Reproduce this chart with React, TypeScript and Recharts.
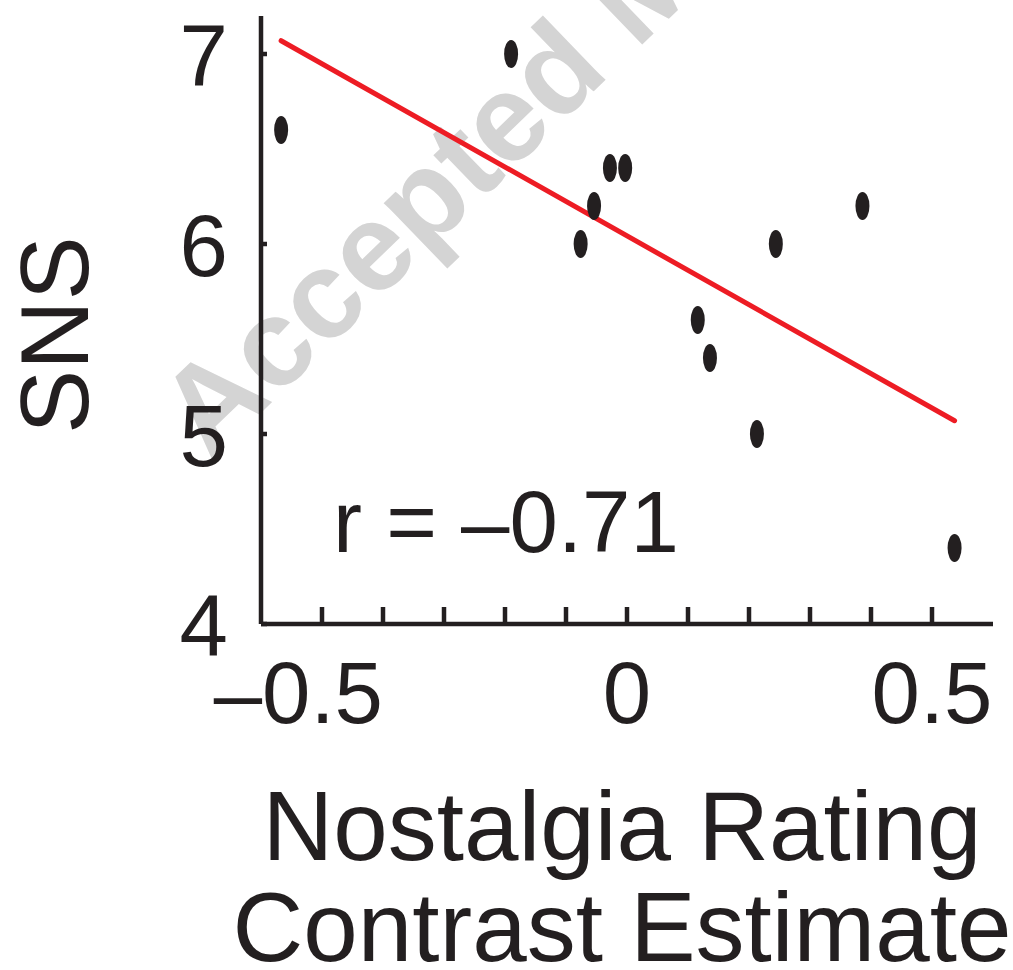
import { ScatterChart, Scatter, XAxis, YAxis, ReferenceLine, Customized } from "recharts";

// contrast estimate (x) and SNS score (y) for each participant
const nostalgia = [-0.567, -0.19, -0.076, -0.054, -0.028, -0.003, 0.116, 0.136, 0.213, 0.244, 0.386, 0.537];
const sns = [6.6, 7.0, 6.0, 6.2, 6.4, 6.4, 5.6, 5.4, 5.0, 6.0, 6.2, 4.4];

// least squares fit end points
const fitX = [-0.567, 0.537];
const fitY = [7.07, 5.07];

const xTicks = [-0.5, -0.4, -0.3, -0.2, -0.1, 0, 0.1, 0.2, 0.3, 0.4, 0.5];
const xLabels = ["–0.5", "", "", "", "", "0", "", "", "", "", "0.5"];
const yTicks = [4, 5, 6, 7];
const yLabels = ["4", "5", "6", "7"];

const points = nostalgia.map((x, i) => ({ x, y: sns[i] }));

const INK = "#231f20";
const FONT = "'Liberation Sans', Arial, Helvetica, sans-serif";

function XTick(props: any) {
  const { x, y, index } = props;
  const label = xLabels[index];
  const neg = label.startsWith("–");
  return (
    <g>
      <line x1={x} y1={y} x2={x} y2={y - 17} stroke={INK} strokeWidth={4.5} />
      {label && (
        <text
          x={neg ? x + 61 : x}
          y={y + 99}
          textAnchor={neg ? "end" : "middle"}
          fontSize={87}
          fontFamily={FONT}
          fill={INK}
        >
          {label}
        </text>
      )}
    </g>
  );
}

function YTick(props: any) {
  const { x, y, index } = props;
  return (
    <g>
      <line x1={x} y1={y} x2={x + 6} y2={y} stroke={INK} strokeWidth={4.5} />
      <text x={x - 33} y={y + 32} textAnchor="end" fontSize={87} fontFamily={FONT} fill={INK}>
        {yLabels[index]}
      </text>
    </g>
  );
}

function Dot(props: any) {
  return <ellipse cx={props.cx} cy={props.cy} rx={7} ry={14} fill={INK} />;
}

function Watermark() {
  return (
    <text
      x={210}
      y={462}
      transform="rotate(-44 210 462)"
      fontSize={124}
      fontWeight="bold"
      fontFamily={FONT}
      fill="#d4d4d4"
    >
      Accepted Manuscript
    </text>
  );
}

function Texts() {
  return (
    <g fontFamily={FONT} fill={INK}>
      <text x={333} y={552} fontSize={87}>
        r = –0.71
      </text>
      <text x={88} y={335} transform="rotate(-90 88 335)" textAnchor="middle" fontSize={96}>
        SNS
      </text>
      <text x={622} y={860} textAnchor="middle" fontSize={98}>
        Nostalgia Rating
      </text>
      <text x={622} y={961} textAnchor="middle" fontSize={98}>
        Contrast Estimate
      </text>
    </g>
  );
}

export default function App() {
  return (
    <div style={{ position: "absolute", left: 0, top: 0, background: "#fff" }}>
      <ScatterChart width={1013} height={970} margin={{ top: 16, right: 20, bottom: 345, left: 260 }}>
        <Customized component={Watermark} />
        <XAxis
          type="number"
          dataKey="x"
          domain={[-0.6, 0.6]}
          ticks={xTicks}
          interval={0}
          height={1}
          tickSize={0}
          tickMargin={0}
          tickLine={false}
          tick={XTick}
          axisLine={{ stroke: INK, strokeWidth: 4.5 }}
          allowDataOverflow
        />
        <YAxis
          type="number"
          dataKey="y"
          domain={[4, 7.2]}
          ticks={yTicks}
          interval={0}
          width={1}
          tickSize={0}
          tickMargin={0}
          tickLine={false}
          tick={YTick}
          axisLine={{ stroke: INK, strokeWidth: 4.5 }}
          allowDataOverflow
        />
        <ReferenceLine
          segment={[
            { x: fitX[0], y: fitY[0] },
            { x: fitX[1], y: fitY[1] },
          ]}
          stroke="#ed1c24"
          strokeWidth={5}
          strokeLinecap="round"
          ifOverflow="visible"
        />
        <Scatter data={points} shape={Dot} isAnimationActive={false} />
        <Customized component={Texts} />
      </ScatterChart>
    </div>
  );
}
